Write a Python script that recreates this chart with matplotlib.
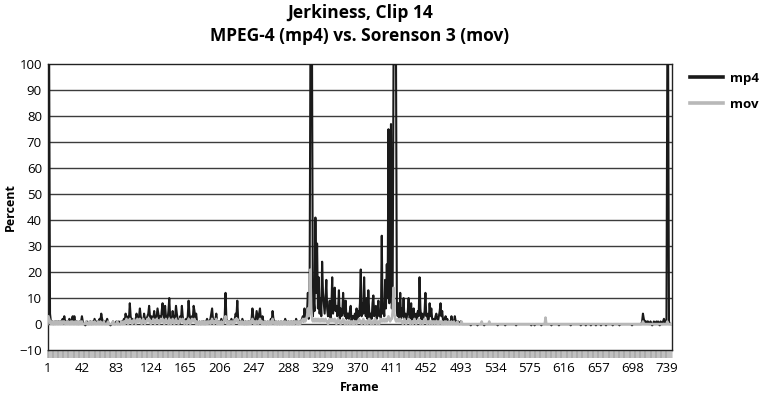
import numpy as np
import matplotlib
matplotlib.use("Agg")
import matplotlib.pyplot as plt

plt.rcParams['font.family'] = ['Open Sans', 'DejaVu Sans']

# Jerkiness per frame (percent)
mp4 = [
    100, 100, 100, 4, 1, 0, 1, 0, 0, 1, 0, 1, 0, 1, 0, 1, 0, 1, 2, 1,
    3, 1, 0, 1, 0, 1, 2, 1, 0, 2, 3, 1, 3, 1, 0, 1, 0, 0, 1, 0,
    1, 3, 1, 0, 0, -0.5, 0, 1, 0, 0, 0, 1, 0, 0, 1, 0, 2, 1, 0, 1,
    0, 1, 2, 1, 4, 2, 1, 0, 1, 0, 1, 2, 1, 0, 0, -0.5, 0, 0, 1, 0,
    0, 0, 1, 0, 0, 1, 0, 0, 1, 0, 1, 2, 1, 4, 2, 1, 3, 2, 8, 3,
    1, 2, 1, 0, 2, 1, 4, 2, 1, 3, 6, 3, 1, 2, 1, 4, 2, 1, 2, 3,
    4, 7, 3, 2, 3, 1, 2, 5, 2, 1, 3, 6, 4, 2, 3, 1, 5, 8, 4, 2,
    7, 3, 1, 2, 5, 10, 3, 2, 1, 5, 2, 1, 3, 7, 4, 2, 1, 0, 3, 2,
    7, 3, 1, 0, 1, 2, 1, 3, 9, 4, 2, 1, 3, 2, 7, 5, 2, 4, 1, 0,
    0, 1, 0, 0, 1, 0, 1, 0, 0, 1, 2, 1, 0, 1, 2, 4, 6, 2, 1, 1,
    2, 4, 1, 0, 1, 0, 1, 2, 1, 0, 1, 3, 12, 2, 1, 0, 1, 0, 1, 2,
    1, 0, 1, 2, 4, 3, 9, 2, 1, 0, 1, 0, 2, 1, 0, 0, 1, 0, 0, 1,
    0, 1, 0, 2, 6, 3, 1, 0, 2, 5, 3, 1, 4, 6, 2, 0, 3, 1, 0, 1,
    0, 0, 1, 0, 0, 1, 2, 1, 5, 2, 1, 0, 1, 0, 0, 1, 0, 0, 1, 0,
    0, 1, 0, 2, 1, 0, 0, 1, 0, 0, 1, 0, 0, 1, 0, 0, 2, 1, 0, 0,
    1, 0, 1, 2, 3, 1, 6, 2, 3, 4, 12, 2, 5, 100, 100, 100, 3, 9, 5, 41,
    12, 31, 6, 18, 4, 10, 3, 24, 12, 8, 4, 10, 17, 6, 3, 5, 9, 2, 6, 18,
    4, 10, 14, 5, 7, 3, 6, 13, 2, 6, 3, 4, 12, 5, 3, 9, 2, 4, 4, 2,
    5, 7, 1, 3, 3, 2, 4, 1, 6, 2, 5, 3, 8, 21, 3, 8, 4, 18, 6, 3,
    10, 2, 13, 5, 2, 4, 2, 8, 11, 3, 6, 7, 2, 5, 9, 3, 5, 2, 34, 4,
    7, 3, 17, 6, 23, 10, 75, 8, 20, 77, 6, 14, 100, 100, 100, 100, 5, 3, 8, 2,
    12, 2, 6, 3, 10, 2, 4, 1, 3, 5, 10, 2, 3, 8, 1, 4, 6, 2, 1, 4,
    2, 5, 3, 18, 6, 2, 4, 1, 3, 5, 12, 3, 4, 1, 2, 8, 3, 6, 2, 1,
    2, 1, 3, 4, 2, 1, 3, 5, 8, 3, 5, 1, 2, 1, 3, 1, 2, 1, 0, 1,
    0, 3, 1, 0, 1, 3, 1, 1, 0, 1, 0, 0, 1, 0, 0, 0, 0, 0, 0, 0,
    0, 0, 0, 0, -0.5, 0, 0, 0, 0, 0, 0, 0, -0.5, 0, 0, 0, 0, 0, 0, 0,
    -0.5, 0, 0, 0, 0, 0, 0, 0, 0, 0, 0, 0, 0, 0, 0, 0, -0.5, 0, 0, 0,
    0, 0, 0, 0, 0, -0.5, 0, 0, 0, 0, 0, 0, 0, 0, 0, 0, 0, 0, -0.5, 0,
    0, 0, 0, 0, 0, 0, 0, 0, 0, 0, 0, 0, 0, 0, 0, 0, -0.5, 0, 0, 0,
    -0.5, 0, 0, 0, 0, 0, 0, 0, -0.5, 0, 0, 0, 0, 0, 0, 0, 0, 0, 0, 0,
    -0.5, 0, 0, 0, 0, 0, 0, 0, 0, -0.5, 0, 0, 0, 0, 0, 0, 0, 0, 0, 0,
    0, 0, 0, -0.5, 0, 0, 0, 0, 0, 0, 0, 0, 0, 0, 0, -0.5, 0, 0, 0, 0,
    0, -0.5, 0, 0, 0, 0, 0, -0.5, 0, 0, 0, 0, 0, -0.5, 0, 0, 0, 0, 0, -0.5,
    0, 0, 0, 0, 0, -0.5, 0, 0, 0, 0, 0, 0, 0, -0.5, 0, 0, 0, 0, 0, 0,
    0, -0.5, 0, 0, 0, 0, 0, 0, 0, 0, 0, 0, 0, 0, 0, 0, -0.5, 0, 0, 0,
    0, 0, 0, 0, 0, 0, 0, 0, 1, 4, 2, 1, 1, 0, 1, 1, 0, 0, 1, 0,
    -0.5, 0, 1, 0, 0, 1, 0, 1, 0, -0.5, 1, 0, 0, 1, 2, 1, 0, 1, 100, 100,
    1, 0, 0, 0,
]

mov = [
    0, 3, 2, 1, 0, 1, 0, 0, 1, 0, 0, 1, 0, 0, 1, 0, 0, 1, 0, 1,
    1, 0, 0, 1, 0, 1, 0, 0, 1, 0, 1, 0, 0, 1, 0, 0, 1, 0, 0, 1,
    0, 1, 0, 0, 0, 0, 1, 0, 0, 0, 1, 0, 0, 1, 0, 0, 1, 0, 0, 0,
    1, 0, 0, 1, 0, 0, 0, 1, 0, 0, 0, 0, 1, 0, 0, 0, 0, 0, 1, 0,
    0, 0, 0, 1, 0, 0, 0, 0, 1, 0, 0, 1, 0, 1, 2, 1, 0, 1, 2, 1,
    1, 0, 1, 2, 1, 0, 1, 2, 1, 1, 2, 1, 0, 1, 2, 1, 0, 1, 1, 2,
    1, 2, 1, 0, 1, 1, 2, 1, 0, 1, 2, 1, 1, 0, 1, 2, 1, 2, 1, 0,
    1, 2, 1, 1, 0, 2, 1, 0, 1, 2, 1, 0, 1, 2, 1, 1, 0, 1, 2, 1,
    1, 2, 1, 0, 1, 1, 0, 1, 2, 1, 0, 1, 2, 1, 1, 2, 1, 0, 1, 0,
    0, 1, 0, 0, 1, 0, 0, 1, 0, 0, 1, 0, 1, 1, 0, 1, 2, 1, 0, 1,
    1, 2, 0, 0, 1, 0, 0, 1, 0, 0, 1, 2, 3, 1, 0, 1, 0, 0, 1, 1,
    0, 1, 0, 1, 2, 1, 2, 1, 0, 0, 1, 0, 1, 0, 0, 1, 0, 0, 1, 0,
    0, 1, 0, 1, 2, 1, 0, 1, 0, 1, 1, 0, 1, 2, 1, 0, 1, 0, 0, 1,
    0, 0, 1, 0, 1, 0, 1, 0, 2, 1, 0, 0, 1, 0, 0, 1, 0, 0, 1, 0,
    0, 1, 0, 1, 0, 0, 1, 0, 0, 1, 0, 0, 1, 0, 0, 1, 1, 0, 1, 0,
    1, 0, 1, 1, 2, 1, 2, 1, 2, 3, 6, 3, 8, 21, 6, 2, 1, 2, 1, 2,
    1, 2, 1, 2, 1, 1, 2, 1, 2, 1, 1, 2, 1, 1, 0, 1, 2, 1, 1, 2,
    1, 1, 2, 1, 0, 1, 2, 1, 1, 0, 1, 1, 2, 1, 0, 1, 1, 0, 1, 1,
    0, 1, 1, 0, 1, 0, 1, 1, 0, 1, 1, 2, 1, 1, 0, 1, 2, 1, 0, 1,
    1, 0, 1, 2, 1, 0, 1, 1, 0, 1, 2, 1, 0, 1, 1, 0, 1, 2, 1, 1,
    2, 1, 1, 2, 1, 2, 3, 2, 1, 2, 2, 5, 14, 4, 2, 1, 1, 2, 1, 1,
    2, 1, 1, 0, 1, 2, 1, 0, 1, 1, 2, 1, 0, 1, 1, 0, 1, 2, 1, 0,
    1, 1, 2, 1, 0, 1, 1, 0, 1, 2, 1, 1, 0, 1, 1, 0, 1, 1, 0, 1,
    1, 0, 1, 1, 0, 1, 0, 1, 1, 0, 1, 0, 0, 1, 0, 1, 0, 0, 1, 0,
    0, 1, 0, 0, 1, 0, 0, 0, 1, 0, 0, 0, 0, 1, 0, 0, 0, 0, 0, 0,
    0, 0, 0, 0, 0, 0, 0, 0, 0, 0, 0, 0, 0, 0, 0, 0, 0, 1, 0, 0,
    0, 0, 0, 0, 0, 0, 1, 0, 0, 0, 0, 0, 0, 0, 0, 0, 0, 0, 0, 0,
    0, 0, 0, 0, 0, 0, 0, 0, 0, 0, 0, 0, 0, 0, 0, 0, 0, 0, 0, 0,
    0, 0, 0, 0, 0, 0, 0, 0, 0, 0, 0, 0, 0, 0, 0, 0, 0, 0, 0, 0,
    0, 0, 0, 0, 0, 0, 0, 0, 0, 0, 0, 0, 0, 2.5, 0, 0, 0, 0, 0, 0,
    0, 0, 0, 0, 0, 0, 0, 0, 0, 0, 0, 0, 0, 0, 0, 0, 0, 0, 0, 0,
    0, 0, 0, 0, 0, 0, 0, 0, 0, 0, 0, 0, 0, 0, 0, 0, 0, 0, 0, 0,
    0, 0, 0, 0, 0, 0, 0, 0, 0, 0, 0, 0, 0, 0, 0, 0, 0, 0, 0, 0,
    0, 0, 0, 0, 0, 0, 0, 0, 0, 0, 0, 0, 0, 0, 0, 0, 0, 0, 0, 0,
    0, 0, 0, 0, 0, 0, 0, 0, 0, 0, 0, 0, 0, 0, 0, 0, 0, 0, 0, 0,
    0, 0, 0, 0, 0, 0, 0, 0, 0, 1, 0, 0, 0, 0, 0, 0, 0, 0, 0, 0,
    0, 0, 0, 0, 0, 0, 0, 0, 0, 0, 0, 0, 0, 0, 0, 0, 0, 0, 1, 0,
    0, 0, 0, 0,
]

tick_labels = [1, 42, 83, 124, 165, 206, 247, 288, 329, 370, 411, 452,
               493, 534, 575, 616, 657, 698, 739]

frames_mp4 = np.arange(1, len(mp4) + 1)
frames_mov = np.arange(1, len(mov) + 1)

fig = plt.figure(figsize=(7.65, 3.94), dpi=100)
ax = fig.add_axes([47.5 / 765, 1 - 350 / 394, 624 / 765, 285.7 / 394])

# gridlines
for yv in range(0, 100, 10):
    ax.axhline(yv, color='#3c3c3c', lw=1.0, zorder=1)

ax.plot(frames_mp4, mp4, color='#1a1a1a', lw=1.5, label='mp4', zorder=3)
ax.plot(frames_mov, mov, color='#b8b8b8', lw=1.8, label='mov', zorder=4)

ax.set_xlim(1, 744)
ax.set_ylim(-10, 100)
ax.set_yticks(range(-10, 101, 10))
ax.set_xticks(tick_labels)
ax.set_xticks(np.arange(1, 745), minor=True)
ax.tick_params(axis='x', which='both', direction='out', length=6, width=0.35,
               color='#6e6e6e', labelsize=9.5, pad=3)
ax.tick_params(axis='y', length=0, labelsize=9.5, pad=4)

for s in ax.spines.values():
    s.set_color('#222222')
    s.set_linewidth(1.0)

ax.set_xlabel('Frame', fontsize=9, fontweight='bold', labelpad=4)
ax.set_ylabel('Percent', fontsize=9, fontweight='bold', labelpad=2)

fig.text(360 / 765, 1 - 13 / 394, 'Jerkiness, Clip 14', ha='center', va='center',
         fontsize=12.5, fontweight='bold')
fig.text(360 / 765, 1 - 36 / 394, 'MPEG-4 (mp4) vs. Sorenson 3 (mov)', ha='center',
         va='center', fontsize=12.5, fontweight='bold')

leg = ax.legend(loc='upper left', bbox_to_anchor=(678 / 765, 1 - 60 / 394),
                bbox_transform=fig.transFigure, frameon=False, handlelength=2.5,
                labelspacing=1.0, handletextpad=0.55,
                prop={'weight': 'bold', 'size': 9.5})
for line in leg.get_lines():
    line.set_linewidth(2.6)

fig.savefig('out.png', dpi=100)
